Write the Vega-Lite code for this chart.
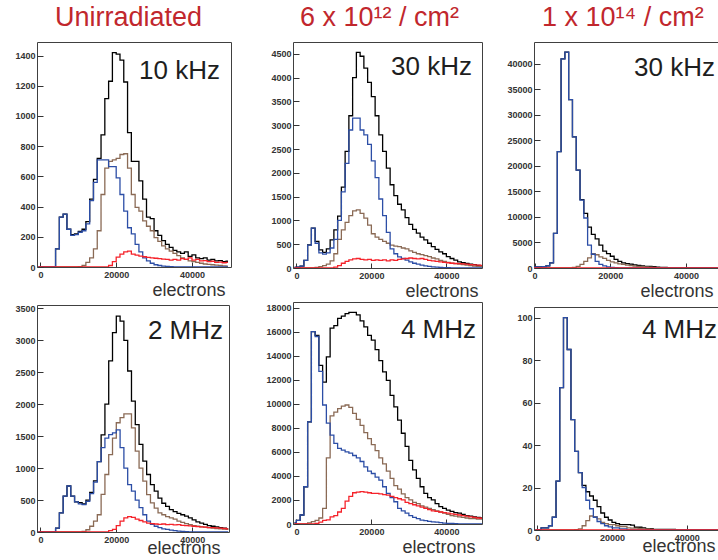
{
"$schema": "https://vega.github.io/schema/vega-lite/v6.json",
"padding": {"left": 0, "top": 3, "right": 0, "bottom": 0},
"background": "white",
"config": {
 "font": "Liberation Sans",
 "view": {"stroke": "#404040", "strokeWidth": 1},
 "axis": {"grid": false, "domain": false, "labelFont": "Liberation Sans", "labelFontWeight": "bold", "labelFontSize": 9, "labelColor": "#333333", "tickColor": "#333333", "tickWidth": 1, "labelOverlap": false},
 "axisX": {"labelFlush": false, "labelPadding": 8, "tickSize": -5, "titleAlign": "right", "titleFont": "Liberation Sans", "titleFontSize": 18, "titleFontWeight": "normal", "titleColor": "#333333", "titlePadding": 2},
 "axisY": {"labelPadding": 8, "tickSize": -6, "labelOverlap": false},
 "title": {"font": "Liberation Sans", "fontSize": 27, "fontWeight": "normal", "color": "#c1272d", "anchor": "start", "frame": "group", "offset": 10},
 "text": {"font": "Liberation Sans"}
},
"datasets": {
 "p1": [
 {"x":-500,"k":0,"n":0,"b":0,"r":0},{"x":500,"k":0,"n":0,"b":0,"r":0},{"x":1500,"k":0,"n":0,"b":0,"r":0},{"x":2500,"k":0,"n":0,"b":0,"r":0},{"x":3500,"k":0,"n":0,"b":0,"r":0},
 {"x":4500,"k":120,"n":0,"b":120,"r":0},{"x":5500,"k":330,"n":0,"b":330,"r":0},{"x":6500,"k":350,"n":0,"b":350,"r":0},{"x":7500,"k":250,"n":0,"b":250,"r":0},{"x":8500,"k":215,"n":0,"b":210,"r":0},
 {"x":9500,"k":220,"n":0,"b":215,"r":0},{"x":10500,"k":235,"n":3,"b":230,"r":0},{"x":11500,"k":250,"n":10,"b":240,"r":0},{"x":12500,"k":300,"n":30,"b":285,"r":0},{"x":13500,"k":450,"n":60,"b":440,"r":0},
 {"x":14500,"k":580,"n":120,"b":560,"r":0},{"x":15500,"k":720,"n":240,"b":710,"r":0},{"x":16500,"k":875,"n":480,"b":710,"r":0},{"x":17500,"k":1115,"n":655,"b":710,"r":0},{"x":18500,"k":1230,"n":700,"b":665,"r":10},
 {"x":19500,"k":1420,"n":710,"b":665,"r":35},{"x":20500,"k":1410,"n":720,"b":590,"r":65},{"x":21500,"k":1370,"n":745,"b":480,"r":85},{"x":22500,"k":1225,"n":750,"b":370,"r":100},{"x":23500,"k":890,"n":655,"b":260,"r":105},
 {"x":24500,"k":700,"n":480,"b":220,"r":85},{"x":25500,"k":700,"n":395,"b":150,"r":78},{"x":26500,"k":570,"n":370,"b":100,"r":72},{"x":27500,"k":450,"n":305,"b":60,"r":68},{"x":28500,"k":330,"n":270,"b":40,"r":64},
 {"x":29500,"k":320,"n":240,"b":25,"r":60},{"x":30500,"k":240,"n":195,"b":15,"r":58},{"x":31500,"k":210,"n":170,"b":10,"r":55},{"x":32500,"k":175,"n":140,"b":6,"r":52},{"x":33500,"k":150,"n":120,"b":4,"r":50},
 {"x":34500,"k":130,"n":105,"b":2,"r":45},{"x":35500,"k":110,"n":90,"b":1,"r":50},{"x":36500,"k":100,"n":75,"b":0,"r":45},{"x":37500,"k":90,"n":60,"b":0,"r":55},{"x":38500,"k":100,"n":50,"b":0,"r":50},
 {"x":39500,"k":70,"n":40,"b":0,"r":60},{"x":40500,"k":80,"n":35,"b":0,"r":45},{"x":41500,"k":60,"n":30,"b":0,"r":50},{"x":42500,"k":55,"n":25,"b":0,"r":40},{"x":43500,"k":60,"n":20,"b":0,"r":42},
 {"x":44500,"k":45,"n":18,"b":0,"r":35},{"x":45500,"k":50,"n":15,"b":0,"r":38},{"x":46500,"k":40,"n":12,"b":0,"r":30},{"x":47500,"k":42,"n":10,"b":0,"r":32},{"x":48500,"k":35,"n":8,"b":0,"r":28},
 {"x":49500,"k":38,"n":6,"b":0,"r":30}
 ],
 "p2": [
 {"x":-500,"k":10,"n":0,"b":10,"r":0},{"x":500,"k":20,"n":0,"b":20,"r":0},{"x":1500,"k":40,"n":0,"b":40,"r":0},{"x":2500,"k":160,"n":0,"b":160,"r":0},{"x":3500,"k":485,"n":0,"b":480,"r":0},
 {"x":4500,"k":840,"n":0,"b":840,"r":0},{"x":5500,"k":560,"n":10,"b":520,"r":0},{"x":6500,"k":380,"n":30,"b":320,"r":0},{"x":7500,"k":330,"n":50,"b":290,"r":0},{"x":8500,"k":400,"n":80,"b":320,"r":0},
 {"x":9500,"k":590,"n":150,"b":420,"r":0},{"x":10500,"k":800,"n":300,"b":600,"r":20},{"x":11500,"k":1090,"n":600,"b":1000,"r":50},{"x":12500,"k":1700,"n":800,"b":1600,"r":100},{"x":13500,"k":2450,"n":960,"b":2200,"r":140},
 {"x":14500,"k":3200,"n":1100,"b":2900,"r":170},{"x":15500,"k":4000,"n":1200,"b":3150,"r":190},{"x":16500,"k":4530,"n":1220,"b":3150,"r":200},{"x":17500,"k":4450,"n":1150,"b":2900,"r":180},{"x":18500,"k":4200,"n":1050,"b":2800,"r":170},
 {"x":19500,"k":3900,"n":900,"b":2600,"r":180},{"x":20500,"k":3600,"n":720,"b":2250,"r":160},{"x":21500,"k":3200,"n":650,"b":1900,"r":170},{"x":22500,"k":2800,"n":600,"b":1450,"r":160},{"x":23500,"k":2450,"n":560,"b":1100,"r":170},
 {"x":24500,"k":2100,"n":520,"b":750,"r":150},{"x":25500,"k":1750,"n":480,"b":400,"r":170},{"x":26500,"k":1520,"n":460,"b":300,"r":160},{"x":27500,"k":1340,"n":450,"b":235,"r":180},{"x":28500,"k":1220,"n":420,"b":200,"r":190},
 {"x":29500,"k":1060,"n":400,"b":165,"r":200},{"x":30500,"k":915,"n":360,"b":130,"r":210},{"x":31500,"k":810,"n":330,"b":100,"r":200},{"x":32500,"k":735,"n":300,"b":80,"r":190},{"x":33500,"k":650,"n":280,"b":60,"r":200},
 {"x":34500,"k":590,"n":260,"b":45,"r":180},{"x":35500,"k":520,"n":240,"b":35,"r":160},{"x":36500,"k":450,"n":210,"b":25,"r":150},{"x":37500,"k":390,"n":190,"b":18,"r":140},{"x":38500,"k":340,"n":160,"b":12,"r":130},
 {"x":39500,"k":300,"n":140,"b":8,"r":120},{"x":40500,"k":240,"n":120,"b":5,"r":110},{"x":41500,"k":200,"n":100,"b":3,"r":100},{"x":42500,"k":165,"n":90,"b":0,"r":95},{"x":43500,"k":130,"n":80,"b":0,"r":90},
 {"x":44500,"k":110,"n":70,"b":0,"r":85},{"x":45500,"k":95,"n":60,"b":0,"r":80},{"x":46500,"k":80,"n":50,"b":0,"r":70},{"x":47500,"k":70,"n":40,"b":0,"r":65},{"x":48500,"k":55,"n":35,"b":0,"r":60},
 {"x":49500,"k":50,"n":30,"b":0,"r":55}
 ],
 "p3": [
 {"x":-500,"k":0,"n":0,"b":0,"r":0},{"x":500,"k":200,"n":0,"b":200,"r":0},{"x":1500,"k":200,"n":0,"b":200,"r":0},{"x":2500,"k":250,"n":0,"b":250,"r":0},{"x":3500,"k":400,"n":0,"b":400,"r":0},
 {"x":4500,"k":1000,"n":0,"b":1000,"r":0},{"x":5500,"k":6800,"n":0,"b":6800,"r":0},{"x":6500,"k":22800,"n":0,"b":22800,"r":0},{"x":7500,"k":41000,"n":0,"b":41000,"r":0},{"x":8500,"k":42300,"n":0,"b":42300,"r":0},
 {"x":9500,"k":33000,"n":0,"b":33000,"r":0},{"x":10500,"k":25700,"n":100,"b":25700,"r":0},{"x":11500,"k":19200,"n":300,"b":19200,"r":0},{"x":12500,"k":13400,"n":700,"b":13300,"r":0},{"x":13500,"k":10700,"n":1300,"b":9800,"r":0},
 {"x":14500,"k":8000,"n":2000,"b":4500,"r":0},{"x":15500,"k":6600,"n":2800,"b":2700,"r":0},{"x":16500,"k":5700,"n":2600,"b":1300,"r":0},{"x":17500,"k":4500,"n":2200,"b":700,"r":0},{"x":18500,"k":3300,"n":1900,"b":400,"r":0},
 {"x":19500,"k":2800,"n":1500,"b":200,"r":0},{"x":20500,"k":2300,"n":1200,"b":100,"r":0},{"x":21500,"k":1700,"n":1000,"b":50,"r":0},{"x":22500,"k":1300,"n":800,"b":20,"r":0},{"x":23500,"k":1000,"n":700,"b":0,"r":0},
 {"x":24500,"k":870,"n":550,"b":0,"r":0},{"x":25500,"k":750,"n":450,"b":0,"r":0},{"x":26500,"k":600,"n":350,"b":0,"r":0},{"x":27500,"k":530,"n":300,"b":0,"r":0},{"x":28500,"k":420,"n":250,"b":0,"r":0},
 {"x":29500,"k":330,"n":200,"b":0,"r":0},{"x":30500,"k":290,"n":150,"b":0,"r":0},{"x":31500,"k":250,"n":120,"b":0,"r":0},{"x":32500,"k":180,"n":90,"b":0,"r":0},{"x":33500,"k":130,"n":50,"b":0,"r":0},
 {"x":34500,"k":110,"n":0,"b":0,"r":0},{"x":35500,"k":80,"n":0,"b":0,"r":0},{"x":36500,"k":0,"n":0,"b":0,"r":0},{"x":37500,"k":0,"n":0,"b":0,"r":0},{"x":38500,"k":0,"n":0,"b":0,"r":0},
 {"x":39500,"k":0,"n":0,"b":0,"r":0},{"x":40500,"k":0,"n":0,"b":0,"r":0},{"x":41500,"k":0,"n":0,"b":0,"r":0},{"x":42500,"k":0,"n":0,"b":0,"r":0},{"x":43500,"k":0,"n":0,"b":0,"r":0},
 {"x":44500,"k":0,"n":0,"b":0,"r":0},{"x":45500,"k":0,"n":0,"b":0,"r":0},{"x":46500,"k":0,"n":0,"b":0,"r":0},{"x":47500,"k":0,"n":0,"b":0,"r":0},{"x":48500,"k":0,"n":0,"b":0,"r":0},
 {"x":49500,"k":0,"n":0,"b":0,"r":0}
 ],
 "p4": [
 {"x":-500,"k":0,"n":0,"b":0,"r":0},{"x":500,"k":0,"n":0,"b":0,"r":0},{"x":1500,"k":0,"n":0,"b":0,"r":0},{"x":2500,"k":0,"n":0,"b":0,"r":0},{"x":3500,"k":0,"n":0,"b":0,"r":0},
 {"x":4500,"k":60,"n":0,"b":60,"r":0},{"x":5500,"k":300,"n":0,"b":300,"r":0},{"x":6500,"k":560,"n":0,"b":560,"r":0},{"x":7500,"k":720,"n":0,"b":720,"r":0},{"x":8500,"k":560,"n":0,"b":560,"r":0},
 {"x":9500,"k":470,"n":0,"b":470,"r":0},{"x":10500,"k":460,"n":0,"b":440,"r":0},{"x":11500,"k":440,"n":10,"b":430,"r":0},{"x":12500,"k":500,"n":35,"b":480,"r":0},{"x":13500,"k":620,"n":90,"b":600,"r":0},
 {"x":14500,"k":800,"n":170,"b":780,"r":0},{"x":15500,"k":1100,"n":270,"b":1100,"r":0},{"x":16500,"k":1520,"n":590,"b":1320,"r":0},{"x":17500,"k":2000,"n":900,"b":1470,"r":0},{"x":18500,"k":2680,"n":1210,"b":1525,"r":20},
 {"x":19500,"k":3120,"n":1470,"b":1550,"r":40},{"x":20500,"k":3380,"n":1710,"b":1600,"r":100},{"x":21500,"k":3300,"n":1790,"b":1320,"r":170},{"x":22500,"k":3000,"n":1850,"b":1000,"r":220},{"x":23500,"k":2520,"n":1850,"b":740,"r":240},
 {"x":24500,"k":2050,"n":1630,"b":640,"r":230},{"x":25500,"k":1680,"n":1265,"b":500,"r":200},{"x":26500,"k":1370,"n":1000,"b":380,"r":180},{"x":27500,"k":1110,"n":795,"b":270,"r":160},{"x":28500,"k":900,"n":585,"b":170,"r":140},
 {"x":29500,"k":740,"n":455,"b":120,"r":130},{"x":30500,"k":640,"n":375,"b":90,"r":125},{"x":31500,"k":530,"n":300,"b":70,"r":120},{"x":32500,"k":450,"n":270,"b":50,"r":125},{"x":33500,"k":400,"n":240,"b":40,"r":115},
 {"x":34500,"k":350,"n":220,"b":30,"r":120},{"x":35500,"k":320,"n":200,"b":20,"r":110},{"x":36500,"k":290,"n":170,"b":15,"r":115},{"x":37500,"k":270,"n":150,"b":10,"r":105},{"x":38500,"k":250,"n":130,"b":5,"r":100},
 {"x":39500,"k":220,"n":115,"b":3,"r":95},{"x":40500,"k":190,"n":100,"b":0,"r":90},{"x":41500,"k":160,"n":90,"b":0,"r":85},{"x":42500,"k":140,"n":80,"b":0,"r":80},{"x":43500,"k":120,"n":75,"b":0,"r":75},
 {"x":44500,"k":100,"n":70,"b":0,"r":70},{"x":45500,"k":90,"n":60,"b":0,"r":70},{"x":46500,"k":80,"n":55,"b":0,"r":65},{"x":47500,"k":70,"n":50,"b":0,"r":60},{"x":48500,"k":60,"n":45,"b":0,"r":55},
 {"x":49500,"k":50,"n":40,"b":0,"r":50}
 ],
 "p5": [
 {"x":-500,"k":100,"n":0,"b":100,"r":0},{"x":500,"k":300,"n":0,"b":300,"r":0},{"x":1500,"k":750,"n":0,"b":750,"r":0},{"x":2500,"k":3100,"n":0,"b":3100,"r":0},{"x":3500,"k":8500,"n":100,"b":8500,"r":0},
 {"x":4500,"k":16000,"n":200,"b":16000,"r":0},{"x":5500,"k":15700,"n":300,"b":15600,"r":50},{"x":6500,"k":13200,"n":500,"b":12700,"r":150},{"x":7500,"k":11800,"n":1300,"b":9900,"r":300},{"x":8500,"k":13900,"n":5500,"b":8400,"r":350},
 {"x":9500,"k":16300,"n":9000,"b":7400,"r":600},{"x":10500,"k":16500,"n":9300,"b":6700,"r":700},{"x":11500,"k":17100,"n":9600,"b":6300,"r":1000},{"x":12500,"k":17300,"n":9800,"b":6150,"r":1300},{"x":13500,"k":17500,"n":9900,"b":6000,"r":1900},
 {"x":14500,"k":17600,"n":9700,"b":5900,"r":2300},{"x":15500,"k":17600,"n":9200,"b":5700,"r":2600},{"x":16500,"k":17400,"n":8700,"b":5500,"r":2650},{"x":17500,"k":16900,"n":8200,"b":5200,"r":2700},{"x":18500,"k":16400,"n":7600,"b":4750,"r":2650},
 {"x":19500,"k":15700,"n":7100,"b":4400,"r":2600},{"x":20500,"k":15300,"n":6600,"b":4200,"r":2550},{"x":21500,"k":14500,"n":6100,"b":3900,"r":2550},{"x":22500,"k":13600,"n":5500,"b":3650,"r":2500},{"x":23500,"k":12650,"n":5000,"b":3100,"r":2450},
 {"x":24500,"k":11950,"n":4400,"b":2550,"r":2400},{"x":25500,"k":10700,"n":3800,"b":2200,"r":2300},{"x":26500,"k":9750,"n":3200,"b":1850,"r":2200},{"x":27500,"k":8650,"n":2900,"b":1300,"r":2100},{"x":28500,"k":7550,"n":2500,"b":1100,"r":2000},
 {"x":29500,"k":6450,"n":2200,"b":900,"r":1800},{"x":30500,"k":5300,"n":2000,"b":700,"r":1700},{"x":31500,"k":4500,"n":1800,"b":550,"r":1600},{"x":32500,"k":3800,"n":1700,"b":450,"r":1500},{"x":33500,"k":3100,"n":1500,"b":330,"r":1400},
 {"x":34500,"k":2550,"n":1400,"b":280,"r":1300},{"x":35500,"k":2200,"n":1300,"b":220,"r":1200},{"x":36500,"k":2000,"n":1200,"b":170,"r":1100},{"x":37500,"k":1700,"n":1100,"b":150,"r":1050},{"x":38500,"k":1450,"n":1000,"b":120,"r":1000},
 {"x":39500,"k":1300,"n":900,"b":80,"r":950},{"x":40500,"k":1150,"n":800,"b":60,"r":900},{"x":41500,"k":1050,"n":700,"b":40,"r":850},{"x":42500,"k":950,"n":650,"b":20,"r":800},{"x":43500,"k":900,"n":600,"b":10,"r":750},
 {"x":44500,"k":800,"n":550,"b":0,"r":700},{"x":45500,"k":700,"n":500,"b":0,"r":650},{"x":46500,"k":650,"n":450,"b":0,"r":600},{"x":47500,"k":600,"n":450,"b":0,"r":550},{"x":48500,"k":550,"n":400,"b":0,"r":500},
 {"x":49500,"k":500,"n":400,"b":0,"r":480}
 ],
 "p6": [
 {"x":-500,"k":0,"n":0,"b":0,"r":0},{"x":500,"k":0,"n":0,"b":0,"r":0},{"x":1500,"k":1,"n":0,"b":1,"r":0},{"x":2500,"k":1,"n":0,"b":1,"r":0},{"x":3500,"k":2,"n":0,"b":2,"r":0},
 {"x":4500,"k":6,"n":0,"b":6,"r":0},{"x":5500,"k":23,"n":0,"b":23,"r":0},{"x":6500,"k":67,"n":0,"b":67,"r":0},{"x":7500,"k":100,"n":0,"b":100,"r":0},{"x":8500,"k":85,"n":0,"b":85,"r":0},
 {"x":9500,"k":52,"n":0,"b":52,"r":0},{"x":10500,"k":37,"n":0.2,"b":37,"r":0},{"x":11500,"k":27,"n":0.5,"b":27,"r":0},{"x":12500,"k":21,"n":2,"b":20,"r":0},{"x":13500,"k":18,"n":4.4,"b":14,"r":0},
 {"x":14500,"k":16,"n":6.6,"b":10,"r":0},{"x":15500,"k":14,"n":6.3,"b":6,"r":0},{"x":16500,"k":11,"n":5.2,"b":4,"r":0},{"x":17500,"k":8,"n":3.6,"b":3,"r":0},{"x":18500,"k":6,"n":3,"b":2,"r":0},
 {"x":19500,"k":4.7,"n":2.5,"b":1.5,"r":0},{"x":20500,"k":3.6,"n":2.5,"b":1,"r":0},{"x":21500,"k":3,"n":2,"b":1,"r":0},{"x":22500,"k":2.5,"n":1.6,"b":0.5,"r":0},{"x":23500,"k":2.5,"n":1.6,"b":0.5,"r":0},
 {"x":24500,"k":2.5,"n":1,"b":0,"r":0},{"x":25500,"k":2.3,"n":0.9,"b":0,"r":0},{"x":26500,"k":1.3,"n":0.9,"b":0,"r":0},{"x":27500,"k":1.3,"n":0.7,"b":0,"r":0},{"x":28500,"k":1,"n":0.5,"b":0,"r":0},
 {"x":29500,"k":0.6,"n":0.5,"b":0,"r":0},{"x":30500,"k":0.6,"n":0.4,"b":0,"r":0},{"x":31500,"k":0.3,"n":0.2,"b":0,"r":0},{"x":32500,"k":0.3,"n":0,"b":0,"r":0},{"x":33500,"k":0.3,"n":0,"b":0,"r":0},
 {"x":34500,"k":0.3,"n":0,"b":0,"r":0},{"x":35500,"k":0.3,"n":0,"b":0,"r":0},{"x":36500,"k":0.3,"n":0,"b":0,"r":0},{"x":37500,"k":0,"n":0,"b":0,"r":0},{"x":38500,"k":0,"n":0,"b":0,"r":0},
 {"x":39500,"k":0,"n":0,"b":0,"r":0},{"x":40500,"k":0,"n":0,"b":0,"r":0},{"x":41500,"k":0,"n":0,"b":0,"r":0},{"x":42500,"k":0,"n":0,"b":0,"r":0},{"x":43500,"k":0,"n":0,"b":0,"r":0},
 {"x":44500,"k":0,"n":0,"b":0,"r":0},{"x":45500,"k":0,"n":0,"b":0,"r":0},{"x":46500,"k":0,"n":0,"b":0,"r":0},{"x":47500,"k":0,"n":0,"b":0,"r":0},{"x":48500,"k":0,"n":0,"b":0,"r":0},
 {"x":49500,"k":0,"n":0,"b":0,"r":0}
 ]
},
"spacing": 5,
"hconcat": [
 {"spacing": 3, "vconcat": [
  {"width": 194, "height": 225,
   "title": {"text": "Unirradiated", "dx": 18},
   "layer": [
    {"data": {"name": "p1"},
     "transform": [{"fold": ["k","n","b","r"], "as": ["s","v"]}],
     "mark": {"type": "line", "interpolate": "step", "strokeWidth": 1.3, "clip": true},
     "encoding": {
      "x": {"field": "x", "type": "quantitative", "title": "electrons", "scale": {"domain": [-900, 50300], "nice": false, "zero": false}, "axis": {"values": [0, 20000, 40000], "format": "d", "titleX": 188}},
      "y": {"field": "v", "type": "quantitative", "title": null, "scale": {"domain": [0, 1490], "nice": false}, "axis": {"format": "d", "labelOverlap": false, "minExtent": 36, "values": [0,200,400,600,800,1000,1200,1400]}},
      "color": {"field": "s", "type": "nominal", "scale": {"domain": ["k","n","b","r"], "range": ["#000000","#8a6a55","#2c4ea6","#f5222a"]}, "legend": null}
     }},
    {"data": {"values": [{"label": "10 kHz"}]},
     "mark": {"type": "text", "align": "right", "baseline": "alphabetic", "dx": -11, "dy": 37, "fontSize": 26, "color": "#1e1e1e"},
     "encoding": {
      "x": {"datum": 50300, "type": "quantitative", "title": "electrons", "axis": {"values": [0, 20000, 40000], "format": "d", "titleX": 188}},
      "y": {"datum": 1490, "type": "quantitative", "title": null, "axis": {"format": "d", "labelOverlap": false, "minExtent": 36, "values": [0,200,400,600,800,1000,1200,1400]}},
      "text": {"field": "label"}}}
   ]},
  {"width": 192, "height": 227,
   "layer": [
    {"data": {"name": "p4"},
     "transform": [{"fold": ["k","n","b","r"], "as": ["s","v"]}],
     "mark": {"type": "line", "interpolate": "step", "strokeWidth": 1.3, "clip": true},
     "encoding": {
      "x": {"field": "x", "type": "quantitative", "title": "electrons", "scale": {"domain": [-900, 49700], "nice": false, "zero": false}, "axis": {"values": [0, 20000, 40000], "format": "d", "titlePadding": -5, "titleX": 183}},
      "y": {"field": "v", "type": "quantitative", "title": null, "scale": {"domain": [0, 3553], "nice": false}, "axis": {"format": "d", "labelOverlap": false, "minExtent": 36, "values": [0,500,1000,1500,2000,2500,3000,3500]}},
      "color": {"field": "s", "type": "nominal", "scale": {"domain": ["k","n","b","r"], "range": ["#000000","#8a6a55","#2c4ea6","#f5222a"]}, "legend": null}
     }},
    {"data": {"values": [{"label": "2 MHz"}]},
     "mark": {"type": "text", "align": "right", "baseline": "alphabetic", "dx": -6, "dy": 34, "fontSize": 26, "color": "#1e1e1e"},
     "encoding": {
      "x": {"datum": 49700, "type": "quantitative", "title": "electrons", "axis": {"values": [0, 20000, 40000], "format": "d", "titlePadding": -5, "titleX": 183}},
      "y": {"datum": 3553, "type": "quantitative", "title": null, "axis": {"format": "d", "labelOverlap": false, "minExtent": 36, "values": [0,500,1000,1500,2000,2500,3000,3500]}},
      "text": {"field": "label"}}}
   ]}
 ]},
 {"spacing": 0, "vconcat": [
  {"width": 189, "height": 226,
   "title": {"text": "6 x 10¹² / cm²", "dx": 7},
   "layer": [
    {"data": {"name": "p2"},
     "transform": [{"fold": ["k","n","b","r"], "as": ["s","v"]}],
     "mark": {"type": "line", "interpolate": "step", "strokeWidth": 1.3, "clip": true},
     "encoding": {
      "x": {"field": "x", "type": "quantitative", "title": "electrons", "scale": {"domain": [-900, 49500], "nice": false, "zero": false}, "axis": {"values": [0, 20000, 40000], "format": "d", "titleX": 185}},
      "y": {"field": "v", "type": "quantitative", "title": null, "scale": {"domain": [0, 4750], "nice": false}, "axis": {"format": "d", "labelOverlap": false, "minExtent": 55, "values": [0,500,1000,1500,2000,2500,3000,3500,4000,4500]}},
      "color": {"field": "s", "type": "nominal", "scale": {"domain": ["k","n","b","r"], "range": ["#000000","#8a6a55","#2c4ea6","#f5222a"]}, "legend": null}
     }},
    {"data": {"values": [{"label": "30 kHz"}]},
     "mark": {"type": "text", "align": "right", "baseline": "alphabetic", "dx": -10, "dy": 33, "fontSize": 26, "color": "#1e1e1e"},
     "encoding": {
      "x": {"datum": 49500, "type": "quantitative", "title": "electrons", "axis": {"values": [0, 20000, 40000], "format": "d", "titleX": 185}},
      "y": {"datum": 4750, "type": "quantitative", "title": null, "axis": {"format": "d", "labelOverlap": false, "minExtent": 55, "values": [0,500,1000,1500,2000,2500,3000,3500,4000,4500]}},
      "text": {"field": "label"}}}
   ]},
  {"width": 189, "height": 222,
   "layer": [
    {"data": {"name": "p5"},
     "transform": [{"fold": ["k","n","b","r"], "as": ["s","v"]}],
     "mark": {"type": "line", "interpolate": "step", "strokeWidth": 1.3, "clip": true},
     "encoding": {
      "x": {"field": "x", "type": "quantitative", "title": "electrons", "scale": {"domain": [-900, 49500], "nice": false, "zero": false}, "axis": {"values": [0, 20000, 40000], "format": "d", "titleX": 182}},
      "y": {"field": "v", "type": "quantitative", "title": null, "scale": {"domain": [0, 18470], "nice": false}, "axis": {"format": "d", "labelOverlap": false, "minExtent": 55, "values": [0,2000,4000,6000,8000,10000,12000,14000,16000,18000]}},
      "color": {"field": "s", "type": "nominal", "scale": {"domain": ["k","n","b","r"], "range": ["#000000","#8a6a55","#2c4ea6","#f5222a"]}, "legend": null}
     }},
    {"data": {"values": [{"label": "4 MHz"}]},
     "mark": {"type": "text", "align": "right", "baseline": "alphabetic", "dx": -6, "dy": 36, "fontSize": 26, "color": "#1e1e1e"},
     "encoding": {
      "x": {"datum": 49500, "type": "quantitative", "title": "electrons", "axis": {"values": [0, 20000, 40000], "format": "d", "titleX": 182}},
      "y": {"datum": 18470, "type": "quantitative", "title": null, "axis": {"format": "d", "labelOverlap": false, "minExtent": 55, "values": [0,2000,4000,6000,8000,10000,12000,14000,16000,18000]}},
      "text": {"field": "label"}}}
   ]}
 ]},
 {"spacing": 5, "vconcat": [
  {"width": 190, "height": 226,
   "title": {"text": "1 x 10¹⁴ / cm²", "dx": 8},
   "layer": [
    {"data": {"name": "p3"},
     "transform": [{"fold": ["k","n","b","r"], "as": ["s","v"]}],
     "mark": {"type": "line", "interpolate": "step", "strokeWidth": 1.3, "clip": true},
     "encoding": {
      "x": {"field": "x", "type": "quantitative", "title": "electrons", "scale": {"domain": [-150, 50000], "nice": false, "zero": false}, "axis": {"values": [0, 20000, 40000], "format": "d", "titleX": 179}},
      "y": {"field": "v", "type": "quantitative", "title": null, "scale": {"domain": [0, 44300], "nice": false}, "axis": {"format": "d", "labelOverlap": false, "minExtent": 45, "values": [0,5000,10000,15000,20000,25000,30000,35000,40000]}},
      "color": {"field": "s", "type": "nominal", "scale": {"domain": ["k","n","b","r"], "range": ["#000000","#8a6a55","#2c4ea6","#f5222a"]}, "legend": null}
     }},
    {"data": {"values": [{"label": "30 kHz"}]},
     "mark": {"type": "text", "align": "right", "baseline": "alphabetic", "dx": -9, "dy": 34, "fontSize": 26, "color": "#1e1e1e"},
     "encoding": {
      "x": {"datum": 50000, "type": "quantitative", "title": "electrons", "axis": {"values": [0, 20000, 40000], "format": "d", "titleX": 179}},
      "y": {"datum": 44300, "type": "quantitative", "title": null, "axis": {"format": "d", "labelOverlap": false, "minExtent": 45, "values": [0,5000,10000,15000,20000,25000,30000,35000,40000]}},
      "text": {"field": "label"}}}
   ]},
  {"width": 190, "height": 223,
   "layer": [
    {"data": {"name": "p6"},
     "transform": [{"fold": ["k","n","b","r"], "as": ["s","v"]}],
     "mark": {"type": "line", "interpolate": "step", "strokeWidth": 1.3, "clip": true},
     "encoding": {
      "x": {"field": "x", "type": "quantitative", "title": "electrons", "scale": {"domain": [-900, 50000], "nice": false, "zero": false}, "axis": {"values": [0, 20000, 40000], "format": "d", "titlePadding": -5, "titleX": 181}},
      "y": {"field": "v", "type": "quantitative", "title": null, "scale": {"domain": [0, 105], "nice": false}, "axis": {"format": "d", "labelOverlap": false, "minExtent": 45, "values": [0,20,40,60,80,100]}},
      "color": {"field": "s", "type": "nominal", "scale": {"domain": ["k","n","b","r"], "range": ["#000000","#8a6a55","#2c4ea6","#f5222a"]}, "legend": null}
     }},
    {"data": {"values": [{"label": "4 MHz"}]},
     "mark": {"type": "text", "align": "right", "baseline": "alphabetic", "dx": -7, "dy": 31, "fontSize": 26, "color": "#1e1e1e"},
     "encoding": {
      "x": {"datum": 50000, "type": "quantitative", "title": "electrons", "axis": {"values": [0, 20000, 40000], "format": "d", "titlePadding": -5, "titleX": 181}},
      "y": {"datum": 105, "type": "quantitative", "title": null, "axis": {"format": "d", "labelOverlap": false, "minExtent": 45, "values": [0,20,40,60,80,100]}},
      "text": {"field": "label"}}}
   ]}
 ]}
]
}
